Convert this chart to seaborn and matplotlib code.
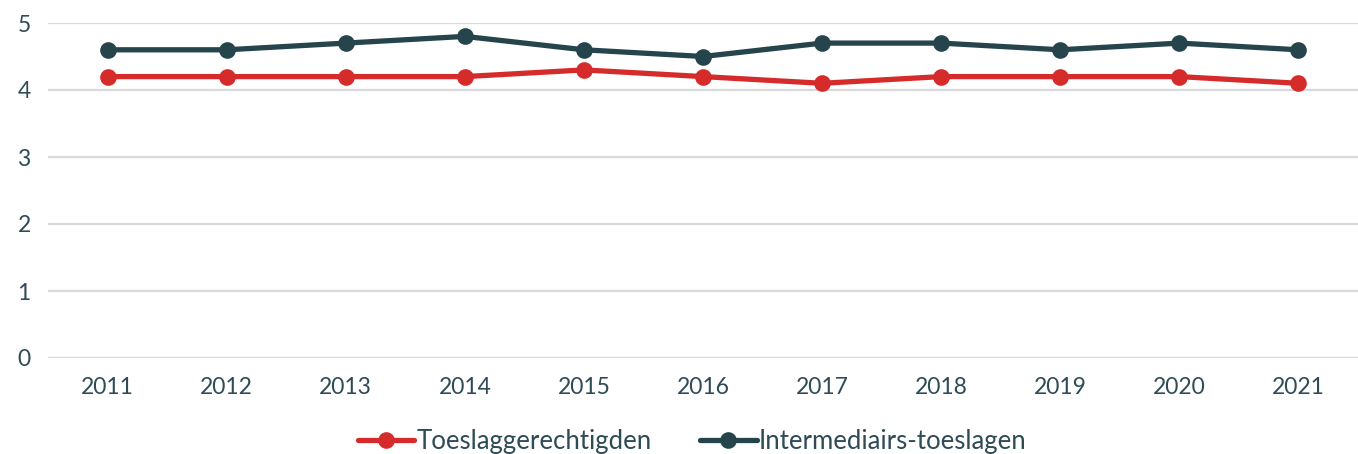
import matplotlib
matplotlib.use("Agg")
import matplotlib.pyplot as plt
import seaborn as sns
import pandas as pd

years = ["2011", "2012", "2013", "2014", "2015", "2016", "2017", "2018", "2019", "2020", "2021"]
toeslaggerechtigden = [4.2, 4.2, 4.2, 4.2, 4.3, 4.2, 4.1, 4.2, 4.2, 4.2, 4.1]
intermediairs = [4.6, 4.6, 4.7, 4.8, 4.6, 4.5, 4.7, 4.7, 4.6, 4.7, 4.6]
series_names = ["Toeslaggerechtigden", "Intermediairs-toeslagen"]
y_ticks = [0, 1, 2, 3, 4, 5]

df = pd.DataFrame({
    "jaar": years * 2,
    "score": toeslaggerechtigden + intermediairs,
    "groep": [series_names[0]] * len(years) + [series_names[1]] * len(years),
})

sns.set_theme(style="white")
plt.rcParams["font.family"] = ["Lato", "DejaVu Sans"]

text_color = "#2e4b56"
palette = {series_names[0]: "#d52b2b", series_names[1]: "#25444b"}

fig = plt.figure(figsize=(13.58, 4.54), dpi=100)
ax = fig.add_axes([48 / 1358, 1 - 358 / 454, 1 - 48 / 1358, (358 - 23) / 454])

sns.lineplot(data=df, x="jaar", y="score", hue="groep", hue_order=series_names,
             palette=palette, marker="o", markersize=12, markeredgewidth=0,
             linewidth=3.8, sort=False, ax=ax, legend=False)

ax.set_ylim(0, 5)
ax.set_xlim(-0.5, len(years) - 0.5)
ax.set_yticks(y_ticks)
ax.set_yticklabels([str(t) for t in y_ticks])
ax.yaxis.grid(True, color="#d9d9d9", linewidth=1.6)
ax.set_axisbelow(True)
for s in ax.spines.values():
    s.set_visible(False)
ax.tick_params(axis="both", length=0, labelsize=16.5, labelcolor=text_color)
ax.tick_params(axis="x", pad=14)
ax.tick_params(axis="y", pad=22)
for lab in ax.get_yticklabels():
    lab.set_horizontalalignment("left")
ax.set_xlabel("")
ax.set_ylabel("")

handles = [plt.Line2D([], [], color=palette[n], marker="o", markersize=12,
                      markeredgewidth=0, linewidth=3.8) for n in series_names]
fig.legend(handles, series_names, loc="center", bbox_to_anchor=(0.5096, 0.027),
           ncol=2, frameon=False, fontsize=18.5, labelcolor=text_color,
           handlelength=2.2, handletextpad=0.08, columnspacing=1.9,
           borderpad=0, borderaxespad=0)

fig.savefig("out.png", dpi=100)
